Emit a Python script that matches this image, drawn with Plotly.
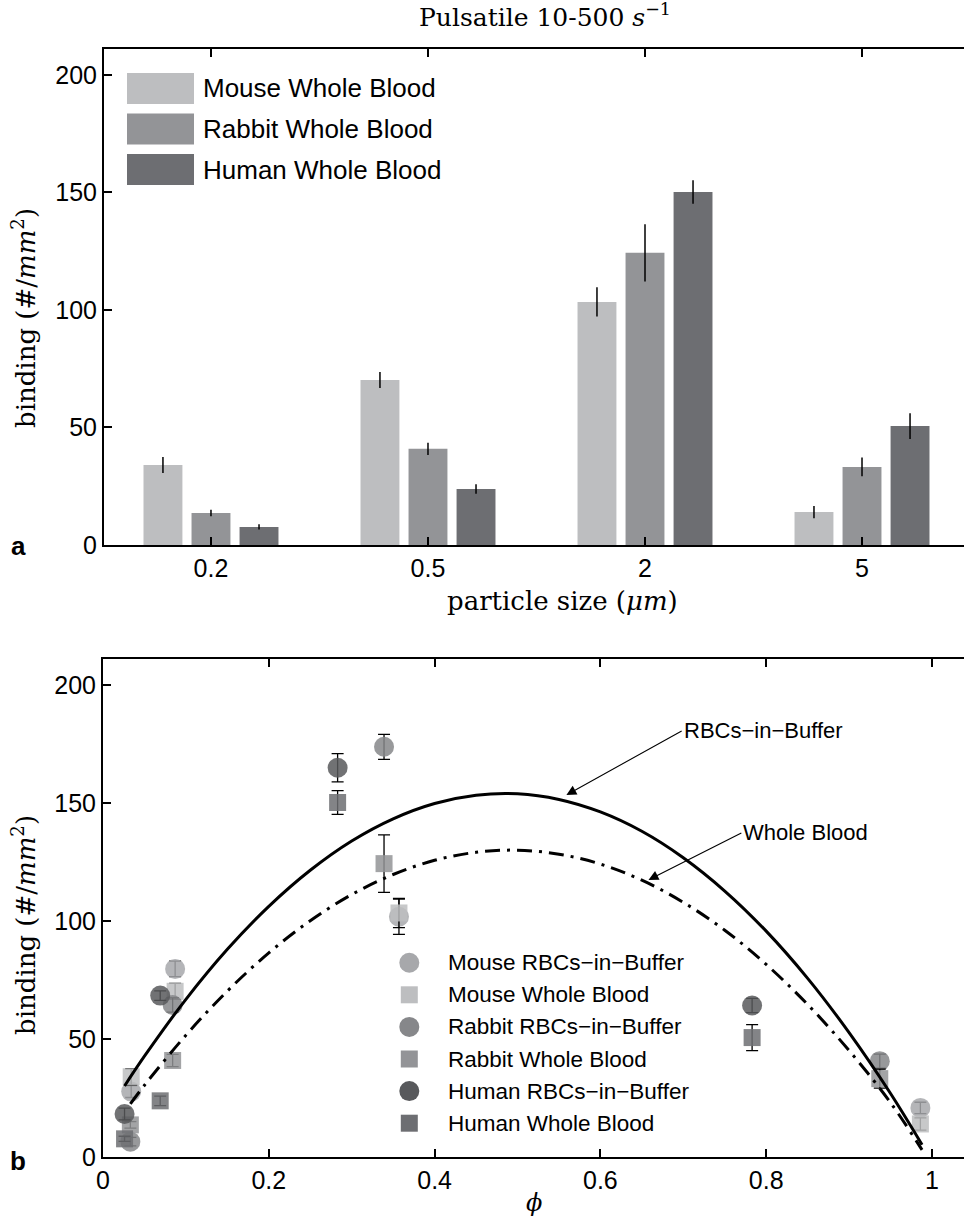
import plotly.graph_objects as go

W, H = 964, 1217

# ---------------- data ----------------
sizes = ["0.2", "0.5", "2", "5"]
size_pos = [1, 2, 3, 4]

mouse_wb = [34.0, 70.2, 103.4, 14.0]
mouse_wb_err = [3.4, 3.4, 6.2, 2.6]
rabbit_wb = [13.6, 40.9, 124.3, 33.2]
rabbit_wb_err = [1.4, 2.6, 12.2, 4.0]
human_wb = [7.7, 23.8, 150.2, 50.6]
human_wb_err = [1.1, 2.0, 5.0, 5.5]

mouse_rbc = [27.7, 79.7, 101.8, 20.8]
mouse_rbc_err = [2.5, 3.3, 7.5, 2.4]
rabbit_rbc = [6.5, 64.4, 173.8, 40.6]
rabbit_rbc_err = [1.8, 3.0, 5.3, 3.0]
human_rbc = [18.2, 68.4, 164.9, 64.2]
human_rbc_err = [2.5, 2.0, 6.0, 3.0]

mouse_phi = [0.034, 0.087, 0.357, 0.986]
rabbit_phi = [0.033, 0.084, 0.339, 0.937]
human_phi = [0.026, 0.069, 0.283, 0.783]

fit_phi_rbc = [0.026, 0.05, 0.1, 0.15, 0.2, 0.25, 0.3, 0.35, 0.4, 0.45, 0.5,
               0.55, 0.6, 0.65, 0.7, 0.75, 0.8, 0.85, 0.9, 0.95, 0.988]
fit_rbc = [30.1, 42.7, 66.8, 88.0, 106.2, 121.5, 133.9, 143.3, 149.8, 153.3, 153.9,
           151.5, 146.2, 138.0, 126.8, 112.7, 95.7, 75.7, 52.7, 26.9, 5.2]
fit_phi_wb = [0.033, 0.05, 0.1, 0.15, 0.2, 0.25, 0.3, 0.35, 0.4, 0.45, 0.5,
              0.55, 0.6, 0.65, 0.7, 0.75, 0.8, 0.85, 0.9, 0.95, 0.988]
fit_wb = [22.5, 30.4, 51.6, 70.3, 86.5, 100.1, 111.2, 119.7, 125.7, 129.1, 130.0,
          128.3, 124.1, 117.3, 107.9, 96.1, 81.6, 64.6, 45.1, 23.0, 3.0]

bar_labels = ["Mouse Whole Blood", "Rabbit Whole Blood", "Human Whole Blood"]
scatter_labels = ["Mouse RBCs\u2212in\u2212Buffer", "Mouse Whole Blood",
                  "Rabbit RBCs\u2212in\u2212Buffer", "Rabbit Whole Blood",
                  "Human RBCs\u2212in\u2212Buffer", "Human Whole Blood"]

c_mouse_wb, c_rabbit_wb, c_human_wb = "#bdbec0", "#939497", "#6d6e72"
c_mouse_rbc, c_rabbit_rbc, c_human_rbc = "#a7a8ab", "#86878a", "#58595c"

SANS = "Liberation Sans, Arial, sans-serif"
SERIF = "DejaVu Serif, serif"


def px(x):
    return x / W


def py(y):
    return 1 - y / H


fig = go.Figure()

# ---------------- panel a: bars ----------------
for vals, errs, col, name in [(mouse_wb, mouse_wb_err, c_mouse_wb, bar_labels[0]),
                              (rabbit_wb, rabbit_wb_err, c_rabbit_wb, bar_labels[1]),
                              (human_wb, human_wb_err, c_human_wb, bar_labels[2])]:
    fig.add_trace(go.Bar(
        x=size_pos, y=vals, name=name, marker=dict(color=col, line=dict(width=0)),
        error_y=dict(type="data", array=errs, color="black", thickness=1.5, width=0),
        xaxis="x", yaxis="y", showlegend=False))

# ---------------- panel b: scatter ----------------
series = [
    (mouse_phi, mouse_rbc, mouse_rbc_err, c_mouse_rbc, "circle", 20, scatter_labels[0]),
    (mouse_phi, mouse_wb, mouse_wb_err, c_mouse_wb, "square", 17, scatter_labels[1]),
    (rabbit_phi, rabbit_rbc, rabbit_rbc_err, c_rabbit_rbc, "circle", 20, scatter_labels[2]),
    (rabbit_phi, rabbit_wb, rabbit_wb_err, c_rabbit_wb, "square", 17, scatter_labels[3]),
    (human_phi, human_rbc, human_rbc_err, c_human_rbc, "circle", 20, scatter_labels[4]),
    (human_phi, human_wb, human_wb_err, c_human_wb, "square", 17, scatter_labels[5]),
]
for xs, ys, es, col, sym, sz, name in series:
    fig.add_trace(go.Scatter(
        x=xs, y=ys, mode="markers", name=name,
        marker=dict(color=col, symbol=sym, size=sz, opacity=0.85, line=dict(width=0)),
        error_y=dict(type="data", array=es, color="black", thickness=1.3, width=6),
        xaxis="x2", yaxis="y2", showlegend=False))

fig.add_trace(go.Scatter(x=fit_phi_rbc, y=fit_rbc, mode="lines", line=dict(color="black", width=3),
                         line_shape="spline", xaxis="x2", yaxis="y2", showlegend=False))
fig.add_trace(go.Scatter(x=fit_phi_wb, y=fit_wb, mode="lines",
                         line=dict(color="black", width=3, dash="15px,7px,3px,7px"),
                         line_shape="spline", xaxis="x2", yaxis="y2", showlegend=False))

axis_common = dict(showline=True, linecolor="black", linewidth=2, ticks="inside", ticklen=8,
                   tickwidth=1.5, tickcolor="black", showgrid=False, zeroline=False,
                   tickfont=dict(family=SANS, size=25, color="black"), automargin=False)

fig.update_layout(
    width=W, height=H, margin=dict(l=0, r=0, t=0, b=0),
    paper_bgcolor="white", plot_bgcolor="white",
    barmode="group", bargap=0.336, bargroupgap=0.19,
    xaxis=dict(axis_common, domain=[px(104), 1], range=[0.507, 4.47], tickvals=size_pos,
               ticktext=sizes, mirror="ticks", anchor="y"),
    yaxis=dict(axis_common, domain=[py(545), py(49)], range=[0, 211], tickvals=[0, 50, 100, 150, 200],
               anchor="x"),
    xaxis2=dict(axis_common, domain=[px(103), 1], range=[0, 1.0386],
                tickvals=[0, 0.2, 0.4, 0.6, 0.8, 1], mirror="ticks", anchor="y2"),
    yaxis2=dict(axis_common, domain=[py(1157), py(659)], range=[0, 211],
                tickvals=[0, 50, 100, 150, 200], anchor="x2"),
)

shapes = []
annotations = []

# legend panel a
for i, (col, name) in enumerate(zip([c_mouse_wb, c_rabbit_wb, c_human_wb], bar_labels)):
    y0 = 73 + i * 40.5
    shapes.append(dict(type="rect", xref="paper", yref="paper", x0=px(127), x1=px(194),
                       y0=py(y0 + 31), y1=py(y0), fillcolor=col, line=dict(width=0)))
    annotations.append(dict(xref="paper", yref="paper", x=px(201), y=py(y0 + 15.5), text=name,
                            showarrow=False, xanchor="left", yanchor="middle",
                            font=dict(family=SANS, size=26, color="black")))

# legend panel b
leg_cols = [c_mouse_rbc, c_mouse_wb, c_rabbit_rbc, c_rabbit_wb, c_human_rbc, c_human_wb]
for i, (col, name) in enumerate(zip(leg_cols, scatter_labels)):
    cy = 962.7 + i * 32.1
    cx = 409.3
    r = 10 if i % 2 == 0 else 8.5
    shapes.append(dict(type="circle" if i % 2 == 0 else "rect", xref="paper", yref="paper",
                       x0=px(cx - r), x1=px(cx + r), y0=py(cy + r), y1=py(cy - r),
                       fillcolor=col, line=dict(width=0)))
    annotations.append(dict(xref="paper", yref="paper", x=px(446), y=py(cy), text=name,
                            showarrow=False, xanchor="left", yanchor="middle",
                            font=dict(family=SANS, size=22.5, color="black")))

# curve labels with arrows
annotations.append(dict(xref="x2", yref="y2", x=0.559, y=153.4, axref="x2", ayref="y2",
                        ax=0.698, ay=180.5, text="RBCs\u2212in\u2212Buffer", showarrow=True,
                        arrowhead=2, arrowsize=1.8, arrowwidth=1.1, arrowcolor="black",
                        xanchor="left", yanchor="middle",
                        font=dict(family=SANS, size=22, color="black")))
annotations.append(dict(xref="x2", yref="y2", x=0.658, y=117.4, axref="x2", ayref="y2",
                        ax=0.770, ay=137.3, text="Whole Blood", showarrow=True,
                        arrowhead=2, arrowsize=1.8, arrowwidth=1.1, arrowcolor="black",
                        xanchor="left", yanchor="middle",
                        font=dict(family=SANS, size=22, color="black")))

# titles
annotations += [
    dict(xref="paper", yref="paper", x=px(545), y=py(16), text="Pulsatile 10-500 <i>s</i><sup>\u22121</sup>",
         showarrow=False, xanchor="center", yanchor="middle",
         font=dict(family=SERIF, size=25, color="black")),
    dict(xref="paper", yref="paper", x=px(562), y=py(601), text="particle size (<i>\u03bcm</i>)",
         showarrow=False, xanchor="center", yanchor="middle",
         font=dict(family=SERIF, size=26, color="black")),
    dict(xref="paper", yref="paper", x=px(534), y=py(1203), text="<i>\u03d5</i>",
         showarrow=False, xanchor="center", yanchor="middle",
         font=dict(family=SERIF, size=24, color="black")),
    dict(xref="paper", yref="paper", x=px(24), y=py(318), text="binding (#/<i>mm</i><sup>2</sup>)",
         showarrow=False, xanchor="center", yanchor="middle", textangle=-90,
         font=dict(family=SERIF, size=26, color="black")),
    dict(xref="paper", yref="paper", x=px(24), y=py(925), text="binding (#/<i>mm</i><sup>2</sup>)",
         showarrow=False, xanchor="center", yanchor="middle", textangle=-90,
         font=dict(family=SERIF, size=26, color="black")),
    dict(xref="paper", yref="paper", x=px(18), y=py(546), text="<b>a</b>",
         showarrow=False, xanchor="center", yanchor="middle",
         font=dict(family=SANS, size=26, color="black")),
    dict(xref="paper", yref="paper", x=px(18), y=py(1161), text="<b>b</b>",
         showarrow=False, xanchor="center", yanchor="middle",
         font=dict(family=SANS, size=26, color="black")),
]

fig.update_layout(shapes=shapes, annotations=annotations)
fig.write_html("out.html")
